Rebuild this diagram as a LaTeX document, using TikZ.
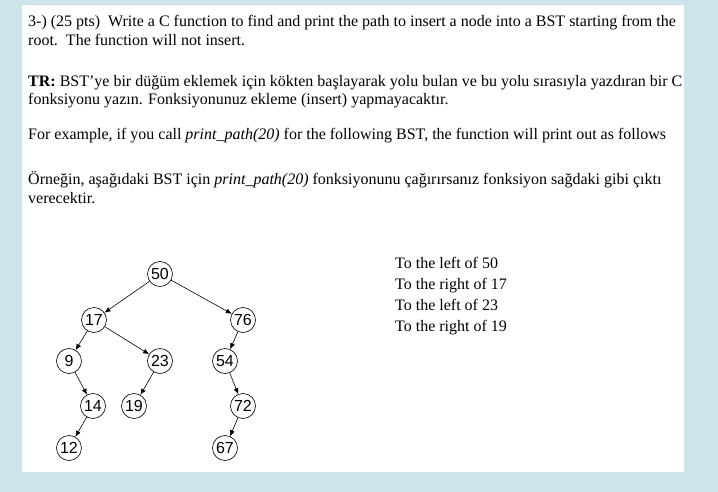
\documentclass[tikz,border=0pt]{standalone}
\usepackage{fontspec}
\usetikzlibrary{arrows.meta}
\setmainfont{Liberation Serif}
\newfontfamily\treefont{Liberation Sans}
\begin{document}
\begin{tikzpicture}[x=1pt,y=-1pt,
  txt/.style={anchor=base west,inner sep=0pt,font=\fontsize{16}{18}\selectfont},
  bst/.style={circle,draw,semithick,minimum size=25pt,inner sep=0pt,font=\treefont\fontsize{16}{16}\selectfont},
  edge/.style={-{Latex[length=6pt,width=5pt]},semithick}]
\fill[fill={rgb,255:red,205;green,228;blue,234}] (0,0) rectangle (718,492);
\fill[white] (22,5) rectangle (684,472);
\begin{scope}
\clip (22,5) rectangle (684,472);
\node[txt] (l1) at (28,27) {3-) (25 pts)\ \ Write a C function to find and print the path to insert a node into a BST starting from the};
\node[txt] (l2) at (28,46) {root.\ \ The function will not insert.};
\node[txt] (l3) at (28,87) {\textbf{TR:} BST'ye bir düğüm eklemek için kökten başlayarak yolu bulan ve bu yolu sırasıyla yazdıran bir C};
\node[txt] (l4) at (28,105) {fonksiyonu yazın. Fonksiyonunuz ekleme (insert) yapmayacaktır.};
\node[txt] (l5) at (28,140) {For example, if you call \textit{print\_path(20)} for the following BST, the function will print out as follows};
\node[txt] (l6) at (28,185) {Örneğin, aşağıdaki BST için \textit{print\_path(20)} fonksiyonunu çağırırsanız fonksiyon sağdaki gibi çıktı};
\node[txt] (l7) at (28,204) {verecektir.};
\node[txt] (r1) at (395,268) {To the left of 50};
\node[txt] (r2) at (395,289) {To the right of 17};
\node[txt] (r3) at (395,310) {To the left of 23};
\node[txt] (r4) at (395,331) {To the right of 19};
\end{scope}
\node[bst] (n50) at (160,274) {50};
\node[bst] (n17) at (94,320) {17};
\node[bst] (n76) at (243,320) {76};
\node[bst] (n9) at (69,361) {9};
\node[bst] (n23) at (160,361) {23};
\node[bst] (n54) at (225,361) {54};
\node[bst] (n14) at (93,406) {14};
\node[bst] (n19) at (134,406) {19};
\node[bst] (n72) at (243,406) {72};
\node[bst] (n12) at (69,448) {12};
\node[bst] (n67) at (225,448) {67};
\foreach \a/\b in {n50/n17,n50/n76,n17/n9,n17/n23,n76/n54,n9/n14,n23/n19,n54/n72,n14/n12,n72/n67}
  \draw[edge] (\a) -- (\b);
\end{tikzpicture}
\end{document}
